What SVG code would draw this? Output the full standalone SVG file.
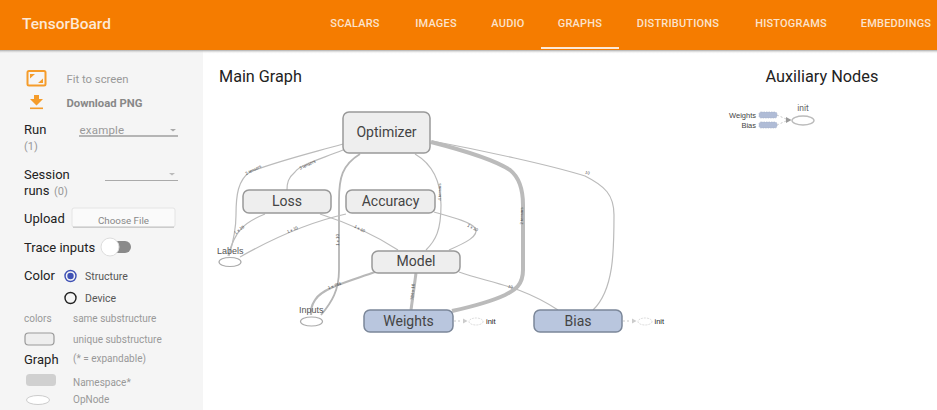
<svg xmlns="http://www.w3.org/2000/svg" width="937" height="410" viewBox="0 0 937 410">
<defs>
<linearGradient id="hdrshadow" x1="0" y1="0" x2="0" y2="1"><stop offset="0" stop-color="#aaa"/><stop offset="1" stop-color="#fff" stop-opacity="0"/></linearGradient>
</defs>
<style>
text{font-family:Roboto,"Liberation Sans",sans-serif}
.nav{font-size:11px;fill:#fbe3cd;font-weight:500;letter-spacing:.2px;text-anchor:middle}
.lab{font-size:13px;fill:#222}
.mut{font-size:10px;fill:#999}
.mid{font-size:10.5px;fill:#555}
.n{stroke:#999;stroke-width:1.5}
.ns{fill:#eee}
.blue{fill:#b9c6de;stroke:#7b8799}
.nt{font-size:14px;fill:#444;text-anchor:middle;font-family:Roboto,"Liberation Sans",sans-serif}
.op{fill:#fff;stroke:#aaa;stroke-width:1.2}
.t{font-size:9px;fill:#555;font-family:"Liberation Sans",sans-serif}
.el{font-size:4.200px;fill:#444;font-family:"Liberation Sans",sans-serif;text-anchor:middle}
.e{fill:none;stroke:#bbb;stroke-width:1.2}
.aux{stroke:#bbb;stroke-width:.8;stroke-dasharray:2 2;fill:none}
.init{font-size:7.500px;fill:#222;font-family:"Liberation Sans",sans-serif}
.dop{fill:#fff;stroke:#ccc;stroke-width:.7;stroke-dasharray:2 1}
.ax{font-size:7.500px;fill:#444;text-anchor:end;font-family:"Liberation Sans",sans-serif}
.ar{fill:#b0bcd6;stroke:#a5b0c8;stroke-width:.6;stroke-dasharray:1.500 1}
</style>
<rect width="937" height="410" fill="#fff"/>
<g id="sidebar">
<rect x="0" y="50" width="203" height="360" fill="#f5f5f5"/>
</g>
<g id="header">
<rect x="0" y="0" width="937" height="50" fill="#f57c00"/>
<rect x="0" y="50" width="937" height="4" fill="url(#hdrshadow)"/>
<text x="22" y="29" font-size="15.500" font-weight="500" fill="#fde9d6">TensorBoard</text>
<text class="nav" x="355" y="27">SCALARS</text>
<text class="nav" x="436" y="27">IMAGES</text>
<text class="nav" x="508" y="27">AUDIO</text>
<text class="nav" x="580" y="27">GRAPHS</text>
<text class="nav" x="678" y="27">DISTRIBUTIONS</text>
<text class="nav" x="791" y="27">HISTOGRAMS</text>
<text class="nav" x="896" y="27">EMBEDDINGS</text>
<rect x="541" y="47" width="78" height="2" fill="#fde9d6"/>
</g>
<g id="controls">
<rect x="27.500" y="71" width="18" height="14.500" rx="1.500" fill="none" stroke="#f59c2a" stroke-width="2"/>
<path d="M30 74h5l-5 4.500zM43 83h-5l5-4.500z" fill="#f59c2a"/>
<path d="M34 95h5v4h4l-6.500 6.500-6.500-6.500h4z" fill="#f59c2a"/>
<rect x="30" y="107.500" width="13" height="1.600" fill="#f59c2a"/>
<text x="66.500" y="83" font-size="11.300" fill="#999">Fit to screen</text>
<text x="66.500" y="107" font-size="11.300" font-weight="700" fill="#888">Download PNG</text>
<text class="lab" x="24" y="134">Run</text>
<text x="24" y="150" font-size="11" fill="#999">(1)</text>
<text x="79.500" y="134" font-size="11.500" fill="#999" letter-spacing=".2">example</text>
<path d="M170 129h6l-3 2.500z" fill="#aaa"/>
<rect x="79" y="135.500" width="99" height="1" fill="#777"/>
<text class="lab" x="24" y="179">Session</text>
<text class="lab" x="24" y="195">runs</text>
<text x="54" y="195" font-size="11" fill="#999">(0)</text>
<path d="M169 173h6l-3 2.500z" fill="#bbb"/>
<rect x="105" y="180" width="73" height="1" fill="#aaa"/>
<text class="lab" x="24" y="223">Upload</text>
<rect x="72" y="208" width="103" height="19" rx="2" fill="#fafafa" stroke="#e4e4e4"/>
<rect x="73" y="226.500" width="101" height="1.500" fill="#ccc"/>
<text x="123.500" y="224" font-size="9.800" fill="#888" text-anchor="middle">Choose File</text>
<text class="lab" x="24" y="252">Trace inputs</text>
<rect x="108" y="241" width="23" height="12" rx="6" fill="#8a8a8a"/>
<circle cx="110" cy="247" r="9" fill="#fff" stroke="#ddd"/>
<text class="lab" x="24" y="280">Color</text>
<circle cx="70.500" cy="276" r="5.500" fill="none" stroke="#3f51b5" stroke-width="1.400"/>
<circle cx="70.500" cy="276" r="3.200" fill="#3f51b5"/>
<text class="mid" x="85" y="280">Structure</text>
<circle cx="70.500" cy="298" r="5.500" fill="none" stroke="#222" stroke-width="1.400"/>
<text class="mid" x="85" y="301.500">Device</text>
<text class="mut" x="24" y="322">colors</text>
<text class="mut" x="73" y="322">same substructure</text>
<rect x="25" y="333" width="29" height="12" rx="3.500" fill="#eee" stroke="#999" stroke-width="1.200"/>
<text class="mut" x="73" y="343">unique substructure</text>
<text class="lab" x="24" y="364">Graph</text>
<text class="mut" x="73" y="362">(* = expandable)</text>
<rect x="26" y="374" width="30" height="12" rx="3.500" fill="#d0d0d0"/>
<text class="mut" x="73" y="386">Namespace*</text>
<ellipse cx="38" cy="400" rx="11.500" ry="4.500" fill="#fff" stroke="#ccc"/>
<text class="mut" x="73" y="403">OpNode</text>
</g>
<text x="219" y="82" font-size="16.200" fill="#222">Main Graph</text>
<text x="765.500" y="82" font-size="16.300" fill="#222">Auxiliary Nodes</text>
<g id="connectors">
<path class="e" d="M343 144C300 156 275 162 250 172C238 180 236 195 236 215C236 232 232 246 229 256"/>
<path class="e" d="M343 150C315 161 300 165 295 172C288 178 287 183 287 190"/>
<path class="e" d="M360 154C342 165 339 178 339 200L339 270C339 290 332 302 321 315" style="stroke:#b5b5b5;stroke-width:1.800"/>
<path class="e" d="M415 154C432 164 441 180 441 205C441 230 436 240 426 250"/>
<path class="e" d="M265 214C245 222 235 230 228 256"/>
<path class="e" d="M346 214C310 222 270 240 240 257"/>
<path class="e" d="M320 214C345 222 375 235 398 250"/>
<path class="e" d="M434 212C455 218 470 222 475 228C480 236 465 243 449 250"/>
<path class="e" d="M375 272C350 281 322 288 315 300C311 306 311 310 311 315" style="stroke:#b8b8b8;stroke-width:2.200"/>
<path d="M416 273L411 310" fill="none" stroke="#bbb" stroke-width="3"/>
<path d="M431 142C470 152 495 160 510 170C520 178 523 190 523 205L523 270C523 285 515 290 505 295C490 302 470 307 452 311" fill="none" stroke="#bbb" stroke-width="4"/>
<path class="e" d="M432 141C480 150 550 165 585 176C605 186 614 195 614 215C614 250 614 290 593 310"/>
<path class="e" d="M459 272C490 283 520 285 558 310"/>
<path class="aux" d="M454 321H462M623 321H631M777 115L786 119M777 125L786 121"/>
<path d="M463 318.500l4.500 2.500-4.500 2.500zM632 318.500l4.500 2.500-4.500 2.500z" fill="#ccc"/>
</g>
<g id="edge-labels">
<text class="el" transform="translate(254 171) rotate(-27)">2 tensors</text>
<text class="el" transform="translate(308 166) rotate(-25)">3 tensors</text>
<text class="el" transform="translate(441 192) rotate(-90)">4 tensors</text>
<text class="el" transform="translate(240 231) rotate(-38)">1 x 10</text>
<text class="el" transform="translate(293 231) rotate(-24)">1 x 10</text>
<text class="el" transform="translate(339 240) rotate(-90)">1 x 10</text>
<text class="el" transform="translate(359 230) rotate(28)">1 x 10</text>
<text class="el" transform="translate(335 287) rotate(-20)">1 x 784</text>
<text class="el" transform="translate(414 292) rotate(-85)">784 x 10</text>
<text class="el" transform="translate(472 229) rotate(28)">1 x 10</text>
<text class="el" transform="translate(523 216) rotate(-90)">2 tensors</text>
<text class="el" transform="translate(587 174) rotate(15)">10</text>
<text class="el" transform="translate(510 288) rotate(15)">10</text>
</g>
<g id="n-optimizer"><rect class="n ns" x="343" y="112" width="87" height="41" rx="6"/><text class="nt" x="386.500" y="137">Optimizer</text></g>
<g id="n-loss"><rect class="n ns" x="243" y="190" width="88" height="23" rx="6"/><text class="nt" x="287" y="206">Loss</text></g>
<g id="n-accuracy"><rect class="n ns" x="346" y="190" width="89" height="23" rx="6"/><text class="nt" x="390.500" y="206">Accuracy</text></g>
<g id="n-model"><rect class="n ns" x="372" y="251" width="88" height="22" rx="6"/><text class="nt" x="416" y="266">Model</text></g>
<g id="n-weights"><rect class="n blue" x="364" y="310" width="89" height="22" rx="6"/><text class="nt" x="408.500" y="325.500">Weights</text></g>
<g id="n-bias"><rect class="n blue" x="534" y="310" width="88" height="22" rx="6"/><text class="nt" x="578" y="325.500">Bias</text></g>
<g id="n-labels"><ellipse class="op" cx="230" cy="262" rx="11" ry="4.500"/><text class="t" x="217" y="254">Labels</text></g>
<g id="n-inputs"><ellipse class="op" cx="311.500" cy="321.500" rx="11" ry="4.500"/><text class="t" x="299" y="313">Inputs</text></g>
<g id="n-init-w"><ellipse class="dop" cx="476" cy="321.500" rx="7" ry="3.500"/><text class="init" x="486" y="324">init</text></g>
<g id="n-init-b"><ellipse class="dop" cx="645" cy="321.500" rx="7" ry="3.500"/><text class="init" x="654.500" y="324">init</text></g>
<g id="aux-weights"><rect class="ar" x="759" y="112" width="18" height="6" rx="2"/><text class="ax" x="756" y="117.500">Weights</text></g>
<g id="aux-bias"><rect class="ar" x="759" y="122" width="18" height="6" rx="2"/><text class="ax" x="756" y="128">Bias</text></g>
<g id="aux-init"><path d="M786 117l5.500 3-5.500 3z" fill="#999"/><ellipse cx="803" cy="120.500" rx="11" ry="4.500" fill="#fff" stroke="#bbb" stroke-width="1.400"/><text x="803" y="111" font-size="8.500" fill="#666" text-anchor="middle" font-family="Liberation Sans,sans-serif">init</text></g>
</svg>
